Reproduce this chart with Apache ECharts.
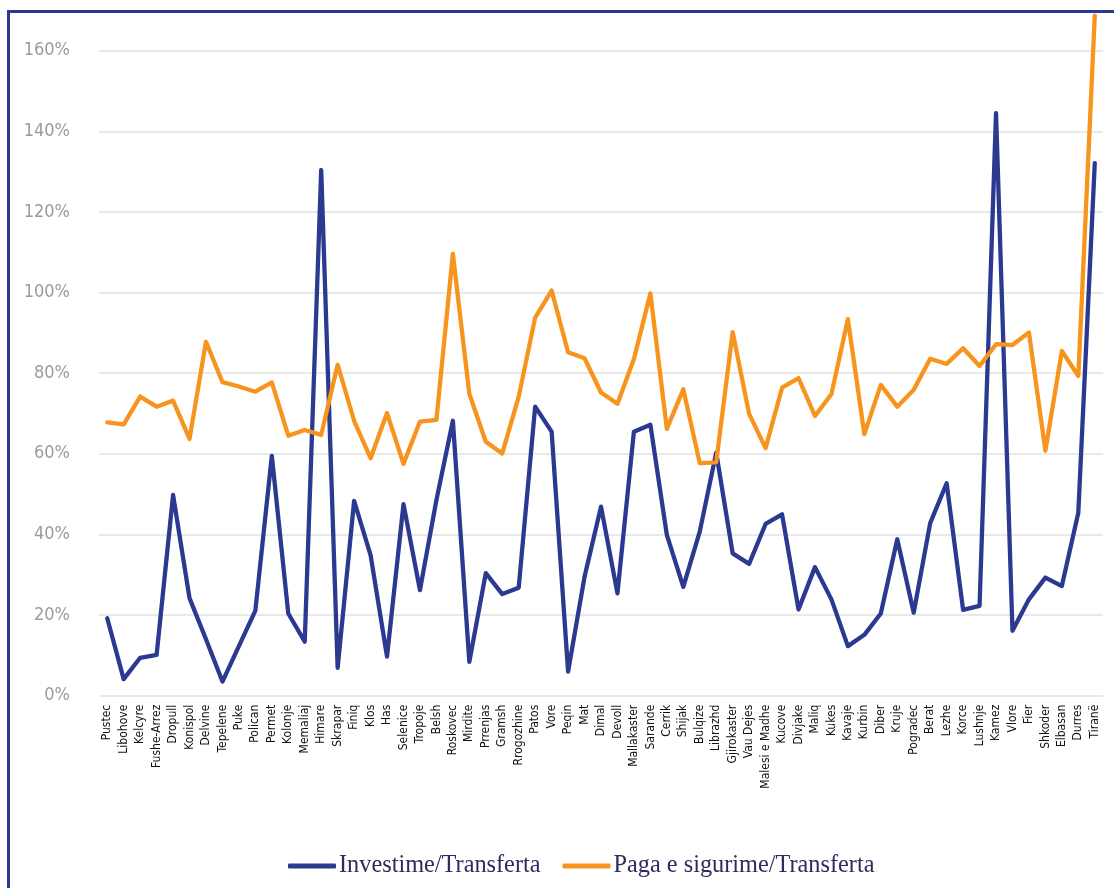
<!DOCTYPE html>
<html>
<head>
<meta charset="utf-8">
<script src="https://cdn.jsdelivr.net/npm/echarts@6/dist/echarts.min.js"></script>
<style>
html,body{margin:0;padding:0;background:#fff;}
#frame{position:absolute;left:7px;top:10px;width:1120px;height:900px;border-left:3px solid #2b3990;border-top:3px solid #2b3990;box-sizing:border-box;}
#chart{position:absolute;left:0;top:0;width:1114px;height:888px;}
</style>
</head>
<body>
<div id="frame"></div>
<div id="chart"></div>
<script>
const categories = ["Pustec","Libohove","Kelcyre","Fushe-Arrez","Dropull","Konispol","Delvine","Tepelene","Puke","Polican","Permet","Kolonje","Memaliaj","Himare","Skrapar","Finiq","Klos","Has","Selenice","Tropoje","Belsh","Roskovec","Mirdite","Prrenjas","Gramsh","Rrogozhine","Patos","Vore","Peqin","Mat","Dimal","Devoll","Mallakaster","Sarande","Cerrik","Shijak","Bulqize","Librazhd","Gjirokaster","Vau Dejes","Malesi e Madhe","Kucove","Divjake","Maliq","Kukes","Kavaje","Kurbin","Diber","Kruje","Pogradec","Berat","Lezhe","Korce","Lushnje","Kamez","Vlore","Fier","Shkoder","Elbasan","Durres","Tiranë"];

const investime = [19.2,4.1,9.4,10.1,49.8,24.2,14.0,3.5,12.3,21.1,59.5,20.4,13.4,130.4,6.9,48.3,34.9,9.7,47.5,26.2,48.5,68.2,8.4,30.4,25.2,26.8,71.7,65.5,6.0,29.5,46.9,25.4,65.5,67.2,39.9,27.0,40.7,60.3,35.3,32.7,42.6,45.0,21.4,31.9,23.9,12.3,15.1,20.4,38.8,20.6,42.8,52.7,21.3,22.3,144.5,16.1,23.9,29.3,27.2,45.4,132.1];

const paga = [67.8,67.3,74.2,71.7,73.2,63.7,87.8,77.8,76.7,75.4,77.7,64.5,65.9,64.7,82.1,68.2,58.9,70.1,57.5,68.0,68.4,109.6,74.9,63.0,60.1,74.2,93.8,100.5,85.2,83.7,75.2,72.4,83.5,99.8,66.2,76.0,57.7,57.9,90.2,69.9,61.4,76.4,78.8,69.4,74.8,93.4,64.9,77.1,71.7,75.9,83.6,82.3,86.2,81.8,87.2,87.0,90.1,60.8,85.5,79.3,168.7];

const seriesNames = ["Investime/Transferta","Paga e sigurime/Transferta"];
const yTicks = {min:0, max:160, interval:20};

const chart = echarts.init(document.getElementById('chart'), null, {renderer:'canvas'});
chart.setOption({
  animation:false,
  backgroundColor:'transparent',
  grid:{left:99, right:11, top:50.7, bottom:192.3, containLabel:false},
  legend:{
    left:283, top:849,
    itemWidth:48, itemHeight:5, itemGap:22,
    icon:'roundRect',
    textStyle:{fontFamily:'Liberation Serif', fontSize:24.3, color:'#2d2b5e', padding:[0,0,0,-2]},
    data:seriesNames
  },
  xAxis:{
    type:'category',
    data:categories,
    boundaryGap:true,
    axisLine:{show:false},
    axisTick:{show:false},
    axisLabel:{
      interval:0, rotate:90, margin:9,
      fontFamily:'DejaVu Sans Condensed', fontSize:12, color:'#111'
    }
  },
  yAxis:{
    type:'value',
    min:yTicks.min, max:yTicks.max, interval:yTicks.interval,
    axisLine:{show:false},
    axisTick:{show:false},
    splitLine:{lineStyle:{color:'#e2e2e2', width:1.5}},
    axisLabel:{
      formatter:'{value}%', margin:29,
      fontFamily:'DejaVu Sans Condensed', fontSize:18, color:'#9a9a9a'
    }
  },
  series:[
    {name:seriesNames[0], type:'line', data:investime, symbol:'none', clip:false,
     lineStyle:{color:'#2b3990', width:4.3, cap:'round', join:'round'}, itemStyle:{color:'#2b3990'}},
    {name:seriesNames[1], type:'line', data:paga, symbol:'none', clip:false,
     lineStyle:{color:'#f7941d', width:4.3, cap:'round', join:'round'}, itemStyle:{color:'#f7941d'}}
  ]
});
</script>
</body>
</html>
